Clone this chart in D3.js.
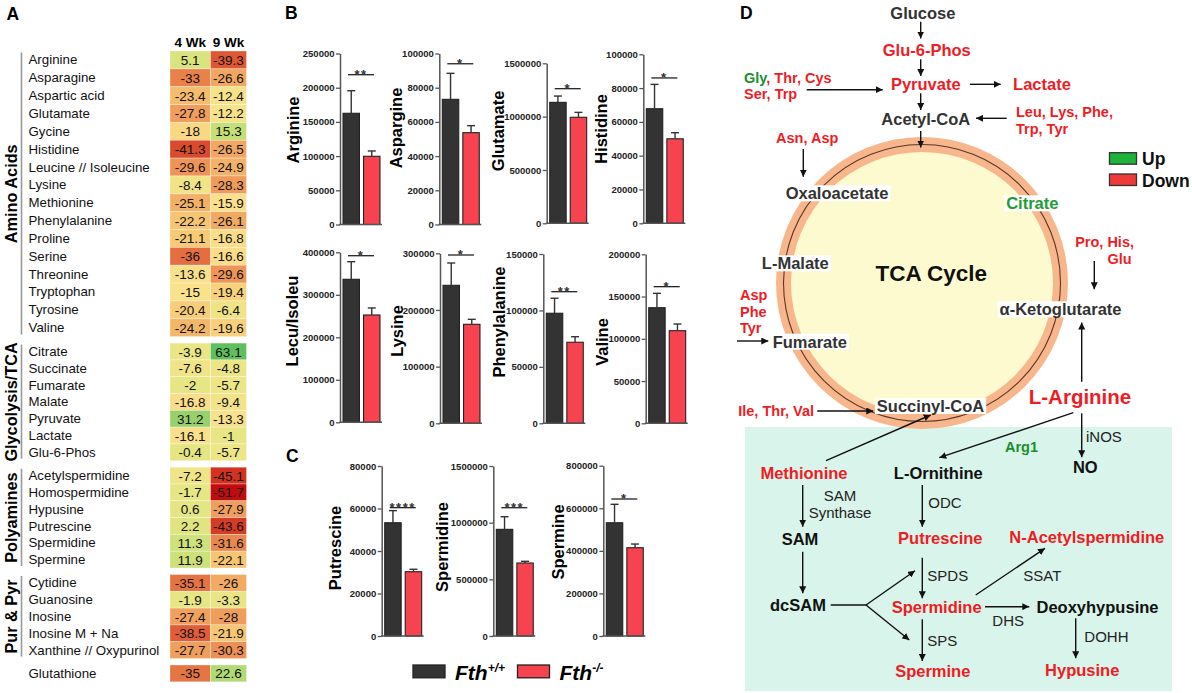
<!DOCTYPE html>
<html><head><meta charset="utf-8">
<script src="https://cdn.jsdelivr.net/npm/d3@7"></script>
<style>
body{margin:0;background:#fff}
svg{display:block}
text{font-family:"Liberation Sans",Arial,Helvetica,sans-serif}
</style>
</head><body>
<svg id="c" width="1192" height="693"></svg>
<script>
// ---------------- DATA ----------------
// Panel A heatmap
const timepoints = ["4 Wk", "9 Wk"];
const groupNames = ["Amino Acids", "Glycolysis/TCA", "Polyamines", "Pur & Pyr", ""];
const metabolites = [
  "Arginine","Asparagine","Aspartic acid","Glutamate","Gycine","Histidine","Leucine // Isoleucine","Lysine",
  "Methionine","Phenylalanine","Proline","Serine","Threonine","Tryptophan","Tyrosine","Valine",
  "Citrate","Succinate","Fumarate","Malate","Pyruvate","Lactate","Glu-6-Phos",
  "Acetylspermidine","Homospermidine","Hypusine","Putrescine","Spermidine","Spermine",
  "Cytidine","Guanosine","Inosine","Inosine M + Na","Xanthine // Oxypurinol",
  "Glutathione"
];
const groupOf = [0,0,0,0,0,0,0,0,0,0,0,0,0,0,0,0, 1,1,1,1,1,1,1, 2,2,2,2,2,2, 3,3,3,3,3, 4];
const wk4 = [5.1,-33,-23.4,-27.8,-18,-41.3,-29.6,-8.4,-25.1,-22.2,-21.1,-36,-13.6,-15,-20.4,-24.2,
  -3.9,-7.6,-2,-16.8,31.2,-16.1,-0.4,
  -7.2,-1.7,0.6,2.2,11.3,11.9,
  -35.1,-1.9,-27.4,-38.5,-27.7,
  -35];
const wk9 = [-39.3,-26.6,-12.4,-12.2,15.3,-26.5,-24.9,-28.3,-15.9,-26.1,-16.8,-16.6,-29.6,-19.4,-6.4,-19.6,
  63.1,-4.8,-5.7,-9.4,-13.3,-1,-5.7,
  -45.1,-51.7,-27.9,-43.6,-31.6,-22.1,
  -26,-3.3,-28,-21.9,-30.3,
  22.6];

// Panels B and C bar charts
const genotypes = ["Fth+/+", "Fth-/-"];
const genotypeSup = ["+/+", "-/-"];
const barMetabolites = ["Arginine","Aspargine","Glutamate","Histidine","Lecu/Isoleu","Lysine","Phenylalanine","Valine","Putrescine","Spermidine","Spermine"];
const wtMean = [162600, 73200, 1134000, 67800, 336500, 243500, 97500, 136800, 53300, 941000, 532000];
const wtSem  = [ 33000, 15200,   59000, 14400,  41400,  39400, 13300,  17000,  5700, 111600,  86700];
const koMean = [ 99700, 53700,  994000, 50000, 252500, 174700, 71800, 109600, 30260, 644000, 414800];
const koSem  = [  7800,  4100,   46000,  3600,  16500,   8800,  4900,   7900,  1140,  15000,  17200];
const yMax   = [250000, 100000, 1500000, 100000, 400000, 300000, 150000, 200000, 80000, 1500000, 800000];
const yStep  = [ 50000,  20000,  500000,  20000, 100000, 100000,  50000,  50000, 20000,  500000, 200000];
const sigStars = ["**","*","*","*","*","*","**","*","****","***","*"];
const sigLevel = [219000, 94000, 1262000, 86000, 392000, 297000, 116600, 161700, 60400, 1132000, 643600];

// Panel D regulation status
const regulation = ["Up", "Down"];

// ---------------- LAYOUT ----------------
const svg = d3.select("#c");
const FONT = '"Liberation Sans",Arial,sans-serif';
const RED = "#ee1c24", GREEN = "#1a8f2e", DARK = "#333";

function letter(t, x, y) {
  svg.append("text").attr("x", x).attr("y", y).attr("font-size", 17.5).attr("font-weight", "bold").attr("fill", "#000").text(t);
}
letter("A", 6.5, 20); letter("B", 285, 19); letter("C", 286, 462); letter("D", 740, 19);

// ---- Panel A ----
const heatColor = d3.scaleLinear()
  .domain([-52, -42, -34, -28, -22, -16, -8, 0, 12, 25, 35, 63])
  .range(["#c20a0c", "#d9452a", "#e77c47", "#ef9d5b", "#f6c672", "#fbe08b", "#f0e487", "#e4e683", "#cde17a", "#acd870", "#8ccd68", "#5fbf5e"])
  .clamp(true);

const colX = d3.scaleOrdinal().domain(timepoints).range([170, 210.5]);
const colW = d3.scaleOrdinal().domain(timepoints).range([40.5, 36]);
const rowY = [], rowH = [];
{
  let y = 51, prev = 0;
  metabolites.forEach((m, i) => {
    const g = groupOf[i];
    if (i > 0 && g !== prev) y += 6.5;
    const h = g === 0 ? 17.85 : 16.8;
    rowY.push(y); rowH.push(h); y += h; prev = g;
  });
}
const gA = svg.append("g");
timepoints.forEach(t => {
  gA.append("text").attr("x", colX(t) + colW(t) / 2).attr("y", 46.5).attr("text-anchor", "middle")
    .attr("font-size", 13.5).attr("font-weight", "bold").text(t);
});
const series = [wk4, wk9];
metabolites.forEach((m, i) => {
  gA.append("text").attr("x", 28.5).attr("y", rowY[i] + rowH[i] / 2).attr("dominant-baseline", "central")
    .attr("font-size", 13.3).attr("fill", "#111").text(m);
  timepoints.forEach((t, k) => {
    const v = series[k][i];
    gA.append("rect").attr("x", colX(t)).attr("y", rowY[i]).attr("width", colW(t)).attr("height", rowH[i])
      .attr("fill", heatColor(v)).attr("stroke", "rgba(255,255,255,0.45)").attr("stroke-width", 0.7);
    gA.append("text").attr("x", colX(t) + colW(t) / 2).attr("y", rowY[i] + rowH[i] / 2 + 0.5)
      .attr("dominant-baseline", "central").attr("text-anchor", "middle").attr("font-size", 13.5).attr("fill", "#111").text(v);
  });
});
groupNames.forEach((gname, g) => {
  if (!gname) return;
  const idx = metabolites.map((m, i) => i).filter(i => groupOf[i] === g);
  const top = rowY[idx[0]], bot = rowY[idx[idx.length - 1]] + rowH[idx[idx.length - 1]];
  gA.append("line").attr("x1", 21.5).attr("x2", 21.5).attr("y1", top + 1.5).attr("y2", bot - 2)
    .attr("stroke", "#999").attr("stroke-width", 1.6);
  gA.append("text").attr("transform", `translate(16.7,${(top + bot) / 2}) rotate(-90)`)
    .attr("text-anchor", "middle").attr("font-size", 16.3).attr("font-weight", "bold").text(gname);
});

// ---- Panels B, C ----
const barLayout = [
  {ax: 340,   top: 53.5,  bot: 224.5, lx: -47,   ly: 130},
  {ax: 439.3, top: 53.5,  bot: 224.5, lx: -43.6, ly: 128},
  {ax: 546.7, top: 63.3,  bot: 223.3, lx: -49,   ly: 131},
  {ax: 643.3, top: 54.3,  bot: 223.3, lx: -42,   ly: 129},
  {ax: 340,   top: 252.3, bot: 422.3, lx: -48,   ly: 321},
  {ax: 440,   top: 253.3, bot: 423.3, lx: -43.5, ly: 331},
  {ax: 543.3, top: 254,   bot: 423.3, lx: -44,   ly: 322},
  {ax: 645.7, top: 254.3, bot: 423.3, lx: -44,   ly: 342},
  {ax: 381.7, top: 466,   bot: 636,   lx: -46.7, ly: 548},
  {ax: 493.3, top: 466,   bot: 636,   lx: -51.6, ly: 547},
  {ax: 603.3, top: 465.7, bot: 636,   lx: -45.5, ly: 542}
];
const barFill = d3.scaleOrdinal().domain(genotypes).range(["#333333", "#f6434f"]);
barMetabolites.forEach((name, i) => {
  const L = barLayout[i];
  const g = svg.append("g");
  const y = d3.scaleLinear().domain([0, yMax[i]]).range([L.bot, L.top]);
  const x = d3.scaleBand().domain(genotypes).range([L.ax + 2, L.ax + 41]).paddingInner(0.2).paddingOuter(0.05);
  const means = [wtMean[i], koMean[i]], sems = [wtSem[i], koSem[i]];
  // bars
  genotypes.forEach((gt, k) => {
    g.append("rect").attr("x", x(gt)).attr("y", y(means[k])).attr("width", x.bandwidth())
      .attr("height", y(0) - y(means[k])).attr("fill", barFill(gt)).attr("stroke", "#222").attr("stroke-width", 1.1);
    const cx = x(gt) + x.bandwidth() / 2;
    g.append("line").attr("x1", cx).attr("x2", cx).attr("y1", y(means[k])).attr("y2", y(means[k] + sems[k]))
      .attr("stroke", "#333").attr("stroke-width", 1.4);
    g.append("line").attr("x1", cx - 4).attr("x2", cx + 4).attr("y1", y(means[k] + sems[k])).attr("y2", y(means[k] + sems[k]))
      .attr("stroke", "#333").attr("stroke-width", 1.4);
  });
  // axis
  const axis = d3.axisLeft(y).tickValues(d3.range(0, yMax[i] + 1, yStep[i])).tickFormat(d3.format("d")).tickSize(4).tickSizeOuter(0).tickPadding(1.5);
  const ag = g.append("g").attr("transform", `translate(${L.ax},0)`).call(axis);
  ag.select(".domain").attr("stroke", "#555").attr("stroke-width", 1.5);
  ag.selectAll(".tick line").attr("stroke", "#555").attr("stroke-width", 1.3);
  ag.selectAll(".tick text").attr("font-size", 9.5).attr("font-weight", "bold").attr("fill", "#222").attr("font-family", FONT);
  g.append("line").attr("x1", L.ax - 0.7).attr("x2", L.ax + 42).attr("y1", y(0)).attr("y2", y(0)).attr("stroke", "#555").attr("stroke-width", 1.5);
  // label
  g.append("text").attr("transform", `translate(${L.ax + L.lx},${L.ly}) rotate(-90)`).attr("text-anchor", "middle")
    .attr("dominant-baseline", "central").attr("font-size", 16.5).attr("font-weight", "bold").text(name);
  // significance
  const sy = y(sigLevel[i]);
  g.append("line").attr("x1", L.ax + 8).attr("x2", L.ax + 34).attr("y1", sy).attr("y2", sy).attr("stroke", "#222").attr("stroke-width", 1.3);
  g.append("text").attr("x", L.ax + 21).attr("y", sy + 4).attr("text-anchor", "middle").attr("font-size", 13)
    .attr("font-weight", "bold").attr("letter-spacing", 1.5).attr("fill", "#333").text(sigStars[i]);
});
// legend
const legX = d3.scaleOrdinal().domain(genotypes).range([413, 517.5]);
genotypes.forEach((gt, k) => {
  svg.append("rect").attr("x", legX(gt)).attr("y", 665).attr("width", 32).attr("height", 12.8)
    .attr("fill", barFill(gt)).attr("stroke", "#222").attr("stroke-width", 1.3);
  const t = svg.append("text").attr("x", legX(gt) + 42).attr("y", 680).attr("font-size", 21)
    .attr("font-weight", "bold").attr("font-style", "italic");
  t.append("tspan").text("Fth");
  t.append("tspan").attr("font-size", 12).attr("dy", -8).text(genotypeSup[k]);
});

// ---- Panel D ----
const gD = svg.append("g");
gD.append("rect").attr("x", 745).attr("y", 427).attr("width", 427).attr("height", 264).attr("fill", "#d9f4ea");
const C = {x: 922, y: 283};
gD.append("circle").attr("cx", C.x).attr("cy", C.y).attr("r", 146).attr("fill", "#f8b68c");
gD.append("circle").attr("cx", C.x).attr("cy", C.y).attr("r", 131).attr("fill", "#fefad0");
gD.append("circle").attr("cx", C.x).attr("cy", C.y).attr("r", 138.5).attr("fill", "none").attr("stroke", "#5a3826").attr("stroke-width", 1.1);

const defs = svg.append("defs");
defs.append("marker").attr("id", "ah").attr("viewBox", "0 0 10 10").attr("refX", 10).attr("refY", 5)
  .attr("markerWidth", 7).attr("markerHeight", 7).attr("markerUnits", "userSpaceOnUse").attr("orient", "auto")
  .append("path").attr("d", "M0,0 L10,5 L0,10 z").attr("fill", "#111");

const arrows = [
  [920.7,21.7,920.7,38.5,1],[920.7,59.3,920.7,76,1],[920.7,93.3,920.7,110,1],
  [806.7,89.7,882.7,89.7,1],[970,84.3,1000.7,84.3,1],[1006.7,118.3,976,118.3,1],
  [920.7,131,920.7,147.5,1],[803.3,149,803.3,176.7,1],[1094.3,261,1094.3,289.3,1],
  [1081.7,381.7,1081.7,322.5,1],[737,341,768.3,341,1],[817.3,411,873.3,411,1],
  [1073.3,412.7,939.3,457.7,1],[1081.7,413.3,1081.7,457.3,1],[826,460.7,930.7,415,1],
  [802.7,485,802.7,526.7,1],[802.7,551.7,802.7,593.3,1],[830.7,605,866,605,0],
  [866,605,915,570.7,1],[866,605,909.3,640,1],[922.3,485,922.3,526.7,1],
  [922.3,557.7,922.3,598.3,1],[975.7,595,1045,548.3,1],[985,606.7,1029.3,606.7,1],
  [1075.7,618.3,1075.7,658.3,1],[922.3,619.3,922.3,661,1]
];
arrows.forEach(a => {
  const l = gD.append("line").attr("x1", a[0]).attr("y1", a[1]).attr("x2", a[2]).attr("y2", a[3])
    .attr("stroke", "#111").attr("stroke-width", 1.4);
  if (a[4]) l.attr("marker-end", "url(#ah)");
});

function lbl(t, x, y, o = {}) {
  const e = gD.append("text").attr("x", x).attr("y", y).attr("dominant-baseline", "central")
    .attr("text-anchor", o.anchor || "middle").attr("font-size", o.size || 16.5)
    .attr("font-weight", o.weight || "bold").attr("fill", o.color || DARK).text(t);
  if (o.bg) {
    const b = e.node().getBBox();
    gD.insert("rect", () => e.node()).attr("x", b.x - 2).attr("y", b.y + 1).attr("width", b.width + 4).attr("height", b.height - 2).attr("fill", "#fff");
  }
  return e;
}
lbl("Glucose", 922.9, 12.5);
lbl("Glu-6-Phos", 926.8, 50, {color: RED});
lbl("Pyruvate", 925.8, 84, {color: RED});
lbl("Lactate", 1042, 84, {color: RED});
lbl("Acetyl-CoA", 925.8, 119);
lbl("Oxaloacetate", 837, 193.3, {bg: 1});
lbl("Citrate", 1032.3, 203.3, {color: "#1f9c35", bg: 1});
lbl("L-Malate", 795.3, 263.3, {bg: 1});
lbl("TCA Cycle", 931.3, 273.3, {size: 22.5, color: "#111"});
lbl("α-Ketoglutarate", 1060.5, 309.3, {bg: 1});
lbl("Fumarate", 809.8, 341.7, {bg: 1});
lbl("Succinyl-CoA", 930.5, 406, {bg: 1});
lbl("L-Arginine", 1080, 396.7, {size: 20.5, color: RED});
lbl("Methionine", 804, 472.7, {color: RED});
lbl("L-Ornithine", 938.3, 472.7, {color: "#111"});
lbl("NO", 1085.3, 467.3, {color: "#111"});
lbl("SAM", 800, 539.3, {color: "#111"});
lbl("Putrescine", 940.3, 538.3, {color: RED});
lbl("N-Acetylspermidine", 1086.8, 537.3, {color: RED});
lbl("dcSAM", 798, 605, {color: "#111"});
lbl("Spermidine", 936.7, 607.3, {color: RED});
lbl("Deoxyhypusine", 1097.5, 606.7, {color: "#111"});
lbl("Spermine", 932.8, 670.7, {color: RED});
lbl("Hypusine", 1082.2, 670, {color: RED});

const reg = {size: 15, weight: "normal", color: "#222", anchor: "start"};
lbl("SAM", 840, 495, Object.assign({}, reg, {anchor: "middle"}));
lbl("Synthase", 840, 512.3, Object.assign({}, reg, {anchor: "middle"}));
lbl("ODC", 928.3, 502.7, reg);
lbl("SPDS", 927.3, 575.7, reg);
lbl("SSAT", 1023.3, 575.7, reg);
lbl("DHS", 992.3, 620.7, reg);
lbl("SPS", 927.3, 640, reg);
lbl("DOHH", 1084.3, 636.7, reg);
lbl("iNOS", 1086, 436, reg);
lbl("Arg1", 1005, 446.7, {size: 14.5, color: GREEN, anchor: "start"});

const sm = {size: 14.5, color: RED, anchor: "start"};
{
  const t = lbl("", 744, 77.7, sm);
  t.append("tspan").attr("fill", GREEN).text("Gly");
  t.append("tspan").text(", Thr, Cys");
}
lbl("Ser, Trp", 744, 94.3, sm);
lbl("Leu, Lys, Phe,", 1016, 111.7, sm);
lbl("Trp, Tyr", 1016, 129, sm);
lbl("Asn, Asp", 776, 138.3, sm);
lbl("Pro, His,", 1134, 242, Object.assign({}, sm, {anchor: "end"}));
lbl("Glu", 1131.7, 259, Object.assign({}, sm, {anchor: "end"}));
lbl("Asp", 740, 295, sm);
lbl("Phe", 740, 311.7, sm);
lbl("Tyr", 740, 328, sm);
lbl("Ile, Thr, Val", 814, 411, Object.assign({}, sm, {anchor: "end"}));

// legend Up / Down
const regColor = d3.scaleOrdinal().domain(regulation).range(["#1db33a", "#f03a3a"]);
const regY = d3.scaleOrdinal().domain(regulation).range([152.7, 174]);
regulation.forEach(r => {
  gD.append("rect").attr("x", 1109.5).attr("y", regY(r)).attr("width", 27).attr("height", 11.5)
    .attr("fill", regColor(r)).attr("stroke", "#333").attr("stroke-width", 1.3);
  lbl(r, 1142, regY(r) + 6.5, {size: 17.5, color: "#111", anchor: "start"});
});
</script>
</body></html>
